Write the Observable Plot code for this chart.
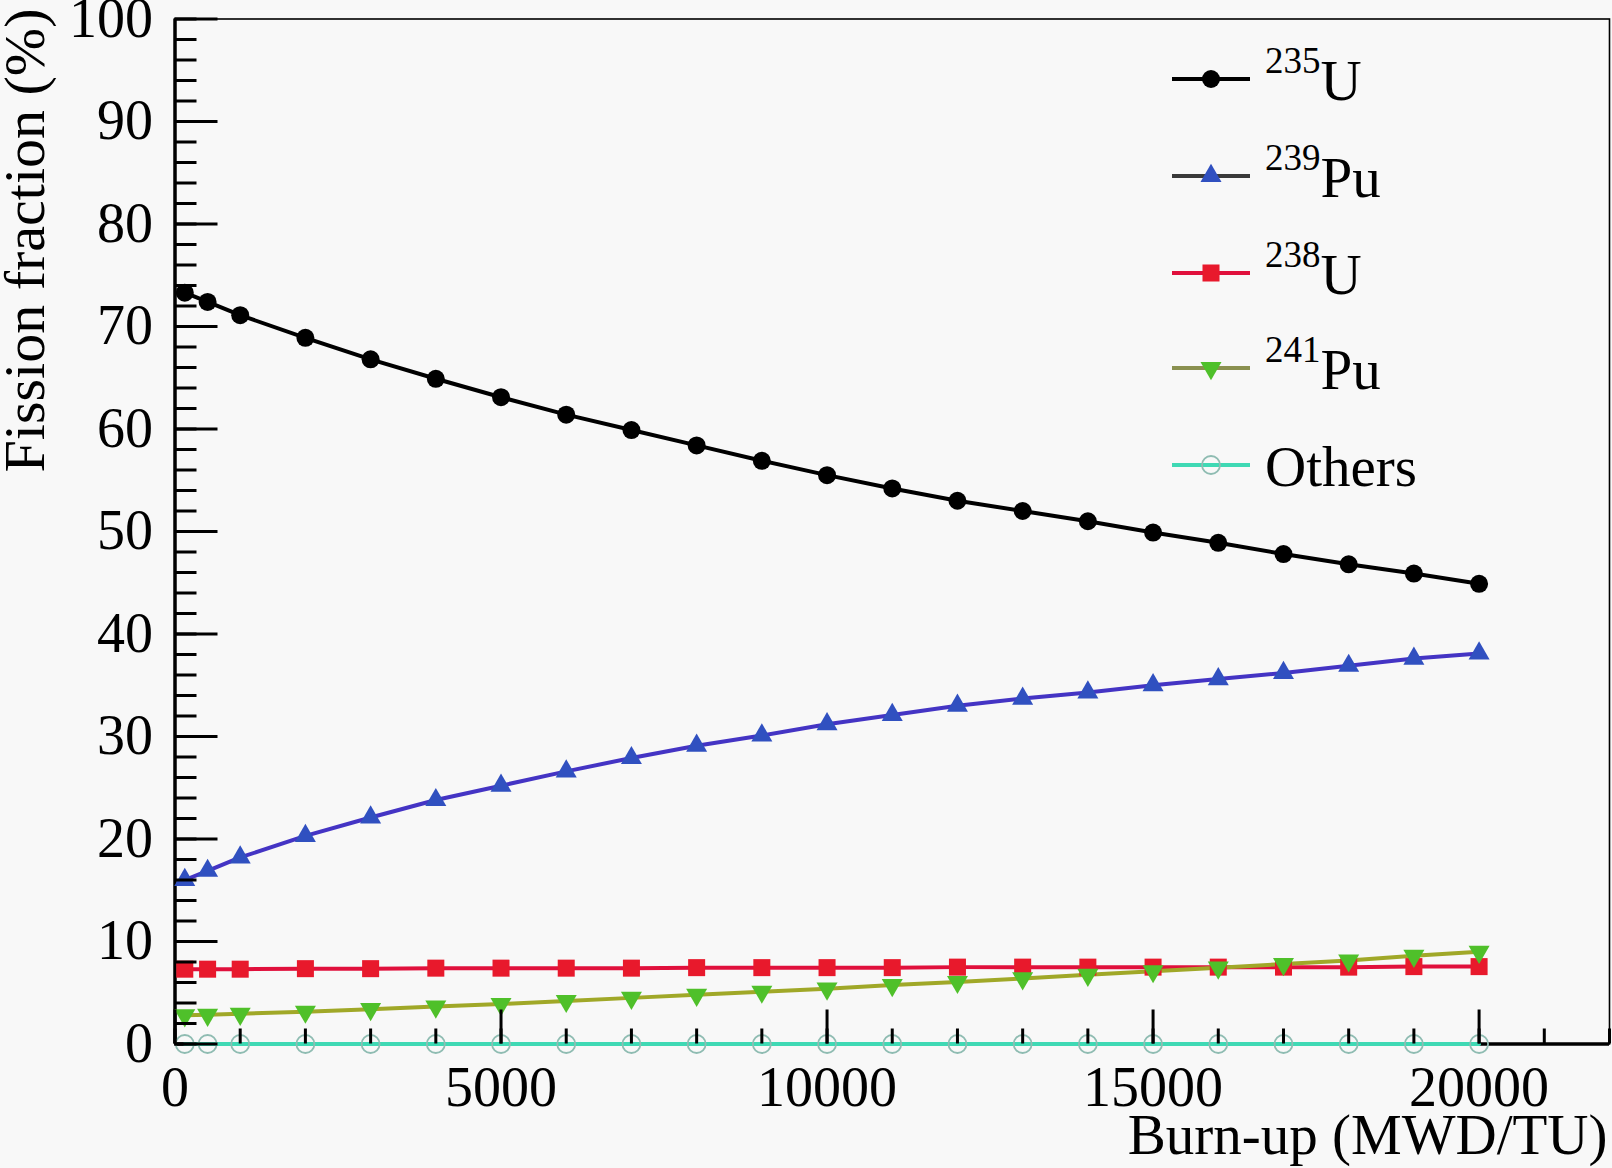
<!DOCTYPE html>
<html>
<head>
<meta charset="utf-8">
<script src="https://cdn.jsdelivr.net/npm/d3@7"></script>
<script src="https://cdn.jsdelivr.net/npm/@observablehq/plot@0.6"></script>
<style>
  html, body { margin: 0; padding: 0; background: #f8f8f8; }
  #wrap { position: relative; width: 1612px; height: 1168px; }
  #legend { position: absolute; left: 0; top: 0; pointer-events: none; }
</style>
</head>
<body>
<div id="wrap"></div>
<script>
// ---- data ----
const burnup = [150, 500, 1000, 2000, 3000, 4000, 5000, 6000, 7000, 8000, 9000, 10000,
                11000, 12000, 13000, 14000, 15000, 16000, 17000, 18000, 19000, 20000];
const u235  = [73.3, 72.4, 71.1, 68.9, 66.8, 64.9, 63.1, 61.4, 59.9, 58.4, 56.9, 55.5,
               54.2, 53.0, 52.0, 51.0, 49.9, 48.9, 47.8, 46.8, 45.9, 44.9];
const pu239 = [16.0, 16.9, 18.2, 20.3, 22.1, 23.8, 25.2, 26.6, 27.9, 29.1, 30.1, 31.2,
               32.1, 33.0, 33.7, 34.3, 35.0, 35.6, 36.2, 36.9, 37.6, 38.1];
const u238  = [7.3, 7.3, 7.3, 7.35, 7.35, 7.4, 7.4, 7.4, 7.4, 7.45, 7.45, 7.45,
               7.45, 7.5, 7.5, 7.5, 7.5, 7.5, 7.5, 7.5, 7.55, 7.55];
const pu241 = [2.8, 2.85, 2.95, 3.15, 3.4, 3.65, 3.9, 4.2, 4.5, 4.8, 5.1, 5.4,
               5.75, 6.05, 6.4, 6.75, 7.1, 7.45, 7.8, 8.15, 8.6, 9.0];
const others = [0, 0, 0, 0, 0, 0, 0, 0, 0, 0, 0, 0, 0, 0, 0, 0, 0, 0, 0, 0, 0, 0];

const xMajorTicks = [0, 5000, 10000, 15000, 20000];
const xMinorTicks = d3.range(0, 22001, 1000);
const yMajorTicks = [0, 10, 20, 30, 40, 50, 60, 70, 80, 90, 100];
const yMinorTicks = d3.range(0, 101, 2);

const seriesSup   = ["235", "239", "238", "241", ""];
const seriesBase  = ["U", "Pu", "U", "Pu", "Others"];

// ---- styling ----
const W = 1612, H = 1168;
const mL = 174.5, mR = 3, mT = 18.5, mB = 124.5;
const plotW = W - mL - mR, plotH = H - mT - mB;
const FONT = "'Liberation Serif', 'Times New Roman', serif";

const styles = [
  {vals: u235,   line: "#000000", legLine: "#000000", fill: "#000000", stroke: "none", symbol: "circle",   r: 9,   rotate: 0},
  {vals: pu239,  line: "#4434c4", legLine: "#3a3a3a", fill: "#3050c0", stroke: "none", symbol: "triangle", r: 7.8, rotate: 0},
  {vals: u238,   line: "#e0103c", legLine: "#e0103c", fill: "#e8192c", stroke: "none", symbol: "square",   r: 9.6, rotate: 0},
  {vals: pu241,  line: "#a0a828", legLine: "#8a9050", fill: "#4fc02a", stroke: "none", symbol: "triangle", r: 7.8, rotate: 180},
  {vals: others, line: "#3fd9b4", legLine: "#3fd9b4", fill: "none",    stroke: "#8fbcb2", symbol: "circle", r: 9,  rotate: 0}
];

const drawOrder = [0, 1, 2, 3, 4];
const marks = [];
for (const k of drawOrder) {
  const s = styles[k];
  const pts = burnup.map((b, i) => [b, s.vals[i]]);
  marks.push(Plot.line(pts, {x: d => d[0], y: d => d[1], stroke: s.line, strokeWidth: 4}));
}
for (const k of drawOrder) {
  const s = styles[k];
  const pts = burnup.map((b, i) => [b, s.vals[i]]);
  marks.push(Plot.dot(pts, {x: d => d[0], y: d => d[1], symbol: s.symbol, r: s.r,
    fill: s.fill, stroke: s.stroke, strokeWidth: s.stroke === "none" ? 0 : 1.8, rotate: s.rotate}));
}

const chart = Plot.plot({
  width: W, height: H,
  marginLeft: mL, marginRight: mR, marginTop: mT, marginBottom: mB,
  style: {fontFamily: FONT, fontSize: "56px", color: "#000", background: "transparent", overflow: "visible"},
  x: {domain: [0, 22000]},
  y: {domain: [0, 100]},
  marks: [
    Plot.frame({stroke: "#000", strokeWidth: 1.6}),
    Plot.ruleX([0], {stroke: "#000", strokeWidth: 3.5}),
    Plot.ruleY([0], {stroke: "#000", strokeWidth: 3.5}),
    ...marks,
    Plot.tickY(yMinorTicks, {y: d => d, insetRight: plotW - 22, stroke: "#000", strokeWidth: 3}),
    Plot.tickY(yMajorTicks, {y: d => d, insetRight: plotW - 43, stroke: "#000", strokeWidth: 3}),
    Plot.tickX(xMinorTicks, {x: d => d, insetTop: plotH - 15, stroke: "#000", strokeWidth: 3}),
    Plot.tickX(xMajorTicks, {x: d => d, insetTop: plotH - 34, stroke: "#000", strokeWidth: 3}),
    Plot.axisY({ticks: yMajorTicks, tickSize: 0, tickPadding: 22, label: null, tickFormat: d => String(d)}),
    Plot.axisX({ticks: xMajorTicks, tickSize: 0, tickPadding: 22, label: null, tickFormat: d => String(d)}),
    Plot.text(["Burn-up (MWD/TU)"], {frameAnchor: "bottom-right", dx: -2, dy: 109.5,
      textAnchor: "end", lineAnchor: "bottom", fontSize: 57}),
    Plot.text(["Fission fraction (%)"], {frameAnchor: "top-left", dx: 43 - mL, dy: 8 - mT,
      rotate: -90, textAnchor: "end", lineAnchor: "bottom", fontSize: 58})
  ]
});
document.getElementById("wrap").appendChild(chart);

// ---- legend ----
const leg = d3.select("#wrap").append("svg").attr("id", "legend")
  .attr("width", W).attr("height", H)
  .style("font-family", FONT);
const rowsY = [79, 176, 273, 368, 465];
const symMap = {circle: d3.symbolCircle, triangle: d3.symbolTriangle, square: d3.symbolSquare};
styles.forEach((s, i) => {
  const yy = rowsY[i];
  leg.append("line").attr("x1", 1172).attr("x2", 1250).attr("y1", yy).attr("y2", yy)
    .attr("stroke", s.legLine).attr("stroke-width", 4);
  leg.append("path")
    .attr("d", d3.symbol(symMap[s.symbol], s.r * s.r * Math.PI)())
    .attr("transform", `translate(1211,${yy}) rotate(${s.rotate})`)
    .attr("fill", s.fill).attr("stroke", s.stroke).attr("stroke-width", s.stroke === "none" ? 0 : 1.8);
  const t = leg.append("text").attr("x", 1265).attr("y", yy + 21).attr("font-size", 57).attr("fill", "#000");
  if (seriesSup[i]) {
    t.append("tspan").attr("font-size", 37).attr("dy", -27).text(seriesSup[i]);
    t.append("tspan").attr("dy", 27).text(seriesBase[i]);
  } else {
    t.append("tspan").text(seriesBase[i]);
  }
});
</script>
</body>
</html>
